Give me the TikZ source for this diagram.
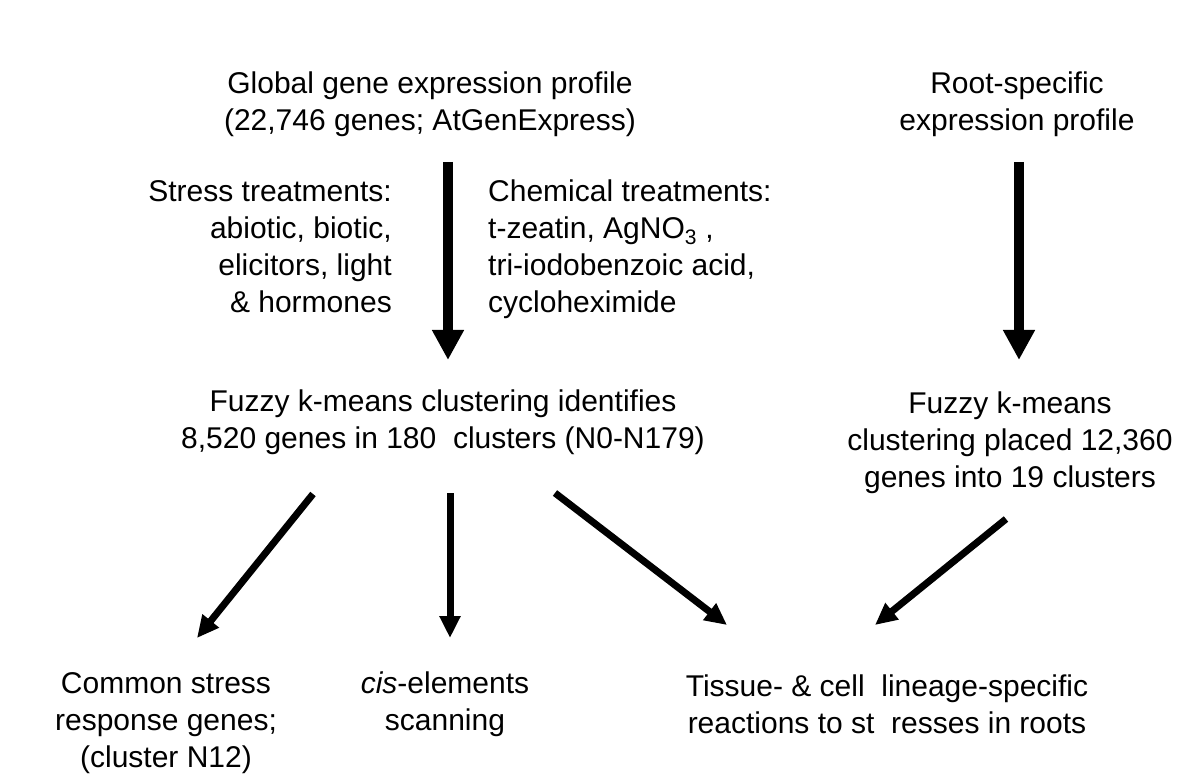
\documentclass[tikz,border=0pt]{standalone}
\usepackage{fontspec}
\setmainfont{Liberation Sans}
\usetikzlibrary{arrows.meta,positioning}

\begin{document}
\begin{tikzpicture}[x=1pt,y=-1pt,
    lbl/.style={align=center,inner sep=0pt,font=\fontsize{30}{37}\selectfont},
    fatarrow/.style={-{Triangle[length=30pt,width=30pt]},line width=9.5pt},
    thinarrow/.style={-{Triangle[length=22pt,width=20pt]},line width=7pt}]

    \useasboundingbox (0,0) rectangle (1200,783);

    % top row
    \node[lbl] (global) at (430,104) {Global gene expression profile\\(22,746 genes; AtGenExpress)};
    \node[lbl] (root) at (1017,104) {Root-specific\\expression profile};

    % treatments
    \node[lbl,align=right,anchor=east] (stress) at (392,247) {Stress treatments:\\abiotic, biotic,\\elicitors, light\hspace*{11pt}\\\& hormones};
    \node[lbl,align=left,anchor=west] (chemical) at (488,249) {Chemical treatments:\\t-zeatin, AgNO\textsubscript{3} ,\\tri-iodobenzoic acid,\\cycloheximide};

    % clustering
    \node[lbl] (fuzzy_all) at (443,422) {Fuzzy k-means clustering identifies\\8,520 genes in 180\ \ clusters (N0-N179)};
    \node[lbl] (fuzzy_root) at (1010,443) {Fuzzy k-means\\clustering placed 12,360\\genes into 19 clusters};

    % results
    \node[lbl] (common) at (166,723) {Common stress\\response genes;\\(cluster N12)};
    \node[lbl] (cis) at (445,704) {\textit{cis}-elements\\scanning};
    \node[lbl] (tissue) at (887,704) {Tissue- \& cell\ \ lineage-specific\\reactions to st\ \ resses in roots};

    % arrow ends
    \coordinate (global_out) at (448,162);
    \coordinate (fuzzy_all_in) at (448,360);
    \coordinate (root_out) at (1019,162);
    \coordinate (fuzzy_root_in) at (1019,360);
    \coordinate (fuzzy_all_l) at (313,494);
    \coordinate (fuzzy_all_m) at (450,493);
    \coordinate (fuzzy_all_r) at (555,493);
    \coordinate (fuzzy_root_out) at (1006,519);
    \coordinate (common_in) at (197,638);
    \coordinate (cis_in) at (450,638);
    \coordinate (tissue_in_l) at (727,625);
    \coordinate (tissue_in_r) at (875,625);

    \draw[fatarrow] (global_out) to (fuzzy_all_in);
    \draw[fatarrow] (root_out) to (fuzzy_root_in);

    \draw[thinarrow] (fuzzy_all_l) to (common_in);
    \draw[thinarrow] (fuzzy_all_m) to (cis_in);
    \draw[thinarrow] (fuzzy_all_r) to (tissue_in_l);
    \draw[thinarrow] (fuzzy_root_out) to (tissue_in_r);
\end{tikzpicture}
\end{document}
